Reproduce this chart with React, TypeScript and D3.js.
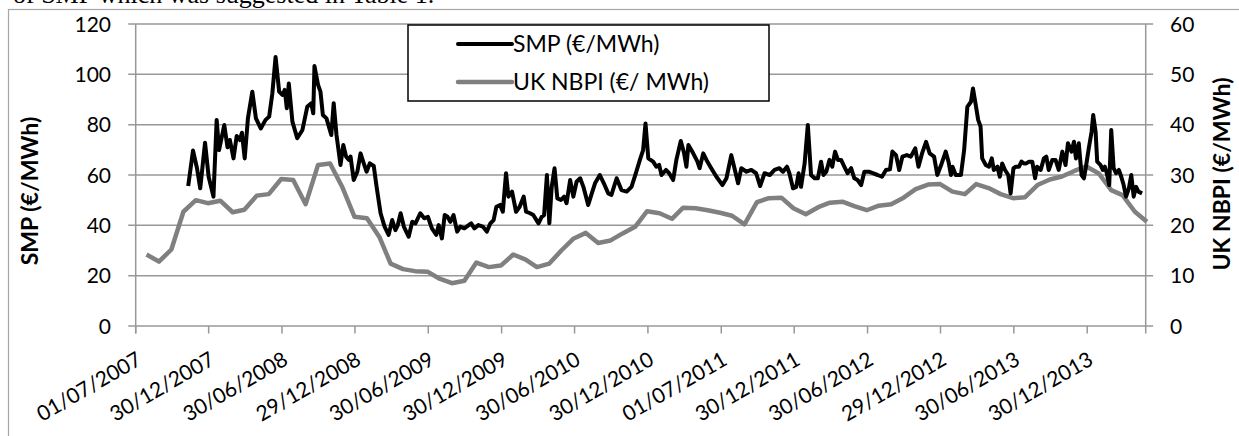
import * as d3 from "d3";
import { useEffect, useRef } from "react";
import * as React from "react";

const xTickLabels = [
  "01/07/2007", "30/12/2007", "30/06/2008", "29/12/2008", "30/06/2009",
  "30/12/2009", "30/06/2010", "30/12/2010", "01/07/2011", "30/12/2011",
  "30/06/2012", "29/12/2012", "30/06/2013", "30/12/2013",
];
const smpTicks = [0, 20, 40, 60, 80, 100, 120];
const nbpiTicks = [0, 10, 20, 30, 40, 50, 60];

const axisFrom = "2007-07-01";
const axisTo = "2014-05-25";

// SMP (€/MWh): readings given as days after smpStart
const smpStart = "2007-11-09";
const smpDays = [
  0, 12, 22, 30, 42, 51, 63, 71, 77, 90,
  98, 104, 113, 121, 129, 134, 141, 149, 160, 169,
  181, 193, 202, 210, 218, 227, 235, 241, 246, 251,
  260, 272, 285, 297, 307, 312, 315, 324, 330, 336,
  345, 357, 363, 370, 380, 387, 394, 401, 405, 413,
  422, 430, 438, 445, 453, 463, 470, 480, 490, 500,
  509, 517, 523, 530, 538, 550, 559, 567, 579, 589,
  598, 608, 619, 625, 633, 640, 647, 654, 662, 671,
  679, 689, 700, 706, 714, 724, 735, 745, 754, 762,
  769, 778, 785, 793, 799, 808, 818, 827, 837, 843,
  853, 861, 874, 882, 888, 895, 901, 907, 914, 921,
  930, 938, 944, 953, 961, 969, 978, 986, 998, 1007,
  1015, 1027, 1037, 1048, 1056, 1069, 1081, 1094, 1106, 1117,
  1127, 1135, 1141, 1148, 1160, 1168, 1175, 1181, 1192, 1200,
  1210, 1218, 1229, 1237, 1243, 1248, 1260, 1270, 1276, 1285,
  1293, 1305, 1318, 1333, 1343, 1355, 1363, 1372, 1380, 1393,
  1405, 1417, 1427, 1438, 1451, 1463, 1475, 1484, 1494, 1500,
  1509, 1517, 1523, 1529, 1538, 1546, 1554, 1563, 1571, 1579,
  1585, 1592, 1600, 1607, 1614, 1621, 1629, 1637, 1645, 1654,
  1662, 1670, 1679, 1687, 1698, 1708, 1720, 1731, 1741, 1751,
  1757, 1766, 1774, 1782, 1793, 1803, 1814, 1822, 1831, 1841,
  1850, 1861, 1869, 1880, 1890, 1897, 1903, 1907, 1915, 1928,
  1936, 1944, 1953, 1958, 1965, 1971, 1977, 1981, 1990, 1998,
  2005, 2010, 2019, 2025, 2031, 2038, 2046, 2052, 2059, 2065,
  2073, 2079, 2085, 2091, 2098, 2106, 2113, 2118, 2127, 2135,
  2141, 2147, 2156, 2164, 2172, 2181, 2189, 2195, 2204, 2210,
  2215, 2222, 2229, 2235, 2240, 2247, 2254, 2258, 2264, 2268,
  2276, 2282, 2287, 2292, 2298, 2303, 2309, 2315, 2322, 2328,
  2334, 2340, 2347, 2353, 2359, 2365, 2371, 2380,
];
const smpValues = [
  55.6, 69.7, 62.7, 54.7, 72.8, 59.3, 51.4, 81.9, 69.9, 79.9,
  71.0, 73.9, 66.6, 75.5, 73.9, 76.8, 66.6, 82.5, 93.1, 82.5,
  78.5, 81.9, 83.2, 92.5, 106.9, 93.1, 91.8, 93.8, 86.5, 96.4,
  81.2, 74.6, 77.9, 87.1, 88.5, 84.5, 103.3, 95.8, 93.1, 83.8,
  82.5, 75.9, 88.5, 75.9, 64.0, 71.9, 67.3, 66.0, 67.3, 58.0,
  61.3, 68.6, 64.6, 61.3, 64.6, 63.6, 55.3, 44.8, 39.5, 36.2,
  42.1, 38.1, 40.1, 44.8, 39.5, 35.5, 41.4, 40.8, 44.8, 42.8,
  43.4, 38.8, 36.2, 40.1, 34.8, 44.1, 43.4, 41.4, 44.1, 37.5,
  39.5, 38.8, 40.1, 40.8, 38.8, 40.1, 39.5, 37.5, 40.8, 42.1,
  47.4, 48.1, 45.4, 60.7, 51.4, 53.4, 45.4, 47.4, 51.4, 45.4,
  44.8, 44.1, 40.8, 43.4, 44.1, 60.0, 40.8, 55.3, 62.7, 50.7,
  50.1, 51.4, 48.8, 58.0, 51.4, 57.3, 58.7, 55.3, 48.1, 52.7,
  56.7, 60.0, 56.7, 52.7, 52.1, 58.7, 54.0, 53.4, 55.3, 60.7,
  66.0, 69.9, 80.5, 66.6, 65.3, 63.3, 64.0, 60.0, 62.0, 60.7,
  58.0, 66.0, 73.5, 68.9, 63.3, 71.9, 68.6, 65.5, 62.7, 68.6,
  66.0, 62.7, 59.3, 56.0, 58.7, 67.9, 62.7, 56.7, 62.7, 61.3,
  62.0, 60.7, 55.6, 60.7, 60.0, 62.0, 62.7, 61.3, 63.3, 60.7,
  54.7, 55.3, 60.7, 55.3, 64.6, 79.9, 60.0, 58.7, 58.7, 65.3,
  60.0, 61.3, 66.0, 63.3, 69.3, 66.0, 66.0, 63.3, 60.7, 62.7,
  58.7, 58.0, 56.0, 61.3, 61.3, 60.7, 60.0, 59.3, 62.0, 62.3,
  69.3, 67.9, 62.0, 67.3, 67.9, 67.3, 70.6, 63.3, 68.6, 73.2,
  68.6, 67.3, 60.0, 64.6, 69.3, 65.3, 60.0, 63.3, 60.0, 60.0,
  69.9, 87.1, 89.1, 94.4, 87.8, 81.9, 79.2, 66.6, 64.0, 63.3,
  66.6, 62.0, 63.3, 59.3, 64.6, 62.0, 60.0, 52.7, 62.7, 63.3,
  63.3, 65.3, 64.6, 64.6, 65.3, 65.3, 58.7, 63.3, 62.0, 66.6,
  67.3, 62.0, 66.0, 66.0, 62.0, 69.3, 64.0, 72.6, 69.3, 73.2,
  66.6, 72.6, 60.0, 58.7, 63.3, 70.6, 77.2, 83.8, 77.2, 65.3,
  64.0, 62.0, 63.3, 60.7, 56.0, 77.9, 62.7, 60.7, 62.0, 59.3,
  56.0, 51.4, 54.7, 60.0, 51.4, 55.3, 53.4, 52.7,
];

// UK NBPI (€/MWh): monthly, first reading 28/07/2007
const nbpiStart = "2007-07-28";
const nbpiValues = [
  14.2, 12.8, 15.2, 22.7, 25.0, 24.4, 24.9, 22.6, 23.1, 25.9,
  26.2, 29.2, 29.0, 24.2, 32.0, 32.3, 27.5, 21.7, 21.4, 17.7,
  12.4, 11.3, 10.9, 10.8, 9.4, 8.5, 9.0, 12.6, 11.7, 12.0,
  14.2, 13.2, 11.7, 12.4, 15.0, 17.4, 18.5, 16.5, 17.0, 18.4,
  19.7, 22.8, 22.4, 21.3, 23.5, 23.4, 23.0, 22.5, 21.9, 20.2,
  24.6, 25.4, 25.5, 23.4, 22.2, 23.6, 24.5, 24.7, 23.8, 23.0,
  23.9, 24.2, 25.5, 27.2, 28.1, 28.2, 26.7, 26.2, 28.2, 27.4,
  26.2, 25.4, 25.6, 28.0, 29.1, 29.7, 30.8, 31.7, 30.3, 27.0,
  26.0, 22.7, 20.7,
];

const FONT = "Lato, 'Open Sans', sans-serif";
const GRID = "#989898";

const App: React.FC = () => {
  const ref = useRef<SVGSVGElement>(null);

  useEffect(() => {
    const plot = { left: 135.7, right: 1145.7, top: 24, bottom: 326 };

    const svg = d3.select(ref.current);
    svg.selectAll("*").remove();

    const parseIso = d3.utcParse("%Y-%m-%d");
    const parseLabel = d3.utcParse("%d/%m/%Y");

    const x = d3
      .scaleUtc()
      .domain([parseIso(axisFrom)!, parseIso(axisTo)!])
      .range([plot.left, plot.right]);
    const yL = d3.scaleLinear().domain([0, 120]).range([plot.bottom, plot.top]);
    const yR = d3.scaleLinear().domain([0, 60]).range([plot.bottom, plot.top]);

    // page text above the figure (cut off)
    svg
      .append("text")
      .attr("x", 13)
      .attr("y", 3)
      .style("font-family", "'Liberation Serif', serif")
      .style("font-size", "26px")
      .text("of SMP which was suggested in Table 1.");

    // chart frame
    svg
      .append("rect")
      .attr("x", 8.5)
      .attr("y", 9.5)
      .attr("width", 1400)
      .attr("height", 1000)
      .attr("fill", "none")
      .attr("stroke", "#a6a6a6")
      .attr("stroke-width", 1.2);

    // gridlines + y ticks
    const g = svg.append("g");
    smpTicks.forEach((t) => {
      g.append("line")
        .attr("x1", plot.left - 7.5)
        .attr("x2", plot.right + 7.5)
        .attr("y1", yL(t))
        .attr("y2", yL(t))
        .attr("stroke", GRID)
        .attr("stroke-width", 1.5);
      g.append("text")
        .attr("x", 111)
        .attr("y", yL(t))
        .attr("dy", "0.36em")
        .attr("text-anchor", "end")
        .style("font-family", FONT)
        .style("font-size", "21px")
        .text(t);
    });
    nbpiTicks.forEach((t) => {
      g.append("text")
        .attr("x", 1170)
        .attr("y", yR(t))
        .attr("dy", "0.36em")
        .style("font-family", FONT)
        .style("font-size", "21px")
        .text(t);
    });

    // vertical axis lines
    [plot.left, plot.right].forEach((px) => {
      g.append("line")
        .attr("x1", px)
        .attr("x2", px)
        .attr("y1", plot.top)
        .attr("y2", plot.bottom + 7.5)
        .attr("stroke", GRID)
        .attr("stroke-width", 1.5);
    });

    // x ticks and rotated labels
    xTickLabels.forEach((lab) => {
      const px = x(parseLabel(lab)!);
      g.append("line")
        .attr("x1", px)
        .attr("x2", px)
        .attr("y1", plot.bottom)
        .attr("y2", plot.bottom + 7.5)
        .attr("stroke", GRID)
        .attr("stroke-width", 1.5);
      g.append("text")
        .attr("text-anchor", "end")
        .attr("transform", `translate(${px},${plot.bottom + 25}) rotate(-30)`)
        .attr("dy", "0.7em")
        .style("font-family", FONT)
        .style("font-size", "21px")
        .text(lab);
    });

    // axis titles
    svg
      .append("text")
      .attr("transform", `translate(30,191) rotate(-90)`)
      .attr("text-anchor", "middle")
      .attr("dy", "0.35em")
      .style("font-family", FONT)
      .style("font-size", "23px")
      .style("font-weight", "bold")
      .text("SMP (€/MWh)");
    svg
      .append("text")
      .attr("transform", `translate(1222,174) rotate(-90)`)
      .attr("text-anchor", "middle")
      .attr("dy", "0.35em")
      .style("font-family", FONT)
      .style("font-size", "23px")
      .style("font-weight", "bold")
      .text("UK NBPI (€/MWh)");

    // series
    const smpT0 = parseIso(smpStart)!;
    const smp = smpDays.map((d, i) => ({
      date: d3.utcDay.offset(smpT0, d),
      value: smpValues[i],
    }));
    const nbpiT0 = parseIso(nbpiStart)!;
    const nbpi = nbpiValues.map((v, i) => ({
      date: d3.utcMonth.offset(nbpiT0, i),
      value: v,
    }));

    const lineL = d3
      .line<{ date: Date; value: number }>()
      .x((d) => x(d.date))
      .y((d) => yL(d.value));
    const lineR = d3
      .line<{ date: Date; value: number }>()
      .x((d) => x(d.date))
      .y((d) => yR(d.value));

    svg
      .append("path")
      .datum(nbpi)
      .attr("d", lineR)
      .attr("fill", "none")
      .attr("stroke", "#808080")
      .attr("stroke-width", 4.5)
      .attr("stroke-linejoin", "round");

    svg
      .append("path")
      .datum(smp)
      .attr("d", lineL)
      .attr("fill", "none")
      .attr("stroke", "#000")
      .attr("stroke-width", 4)
      .attr("stroke-linejoin", "round");

    // legend
    const lg = svg.append("g");
    lg.append("rect")
      .attr("x", 408)
      .attr("y", 25)
      .attr("width", 361)
      .attr("height", 76)
      .attr("fill", "#fff")
      .attr("stroke", "#000")
      .attr("stroke-width", 1.5);
    const items = [
      { name: "SMP (€/MWh)", color: "#000", w: 4, y: 44 },
      { name: "UK NBPI (€/ MWh)", color: "#808080", w: 4.5, y: 82 },
    ];
    items.forEach((it) => {
      lg.append("line")
        .attr("x1", 458)
        .attr("x2", 512)
        .attr("y1", it.y)
        .attr("y2", it.y)
        .attr("stroke", it.color)
        .attr("stroke-width", it.w)
        .attr("stroke-linecap", "round");
      lg.append("text")
        .attr("x", 513)
        .attr("y", it.y)
        .attr("dy", "0.36em")
        .style("font-family", FONT)
        .style("font-size", "23px")
        .text(it.name);
    });

    return () => {
      d3.select(ref.current).selectAll("*").remove();
    };
  });

  return (
    <svg
      ref={ref}
      width={1239}
      height={436}
      style={{ position: "absolute", left: 0, top: 0, background: "#fff" }}
    />
  );
};

export default App;
